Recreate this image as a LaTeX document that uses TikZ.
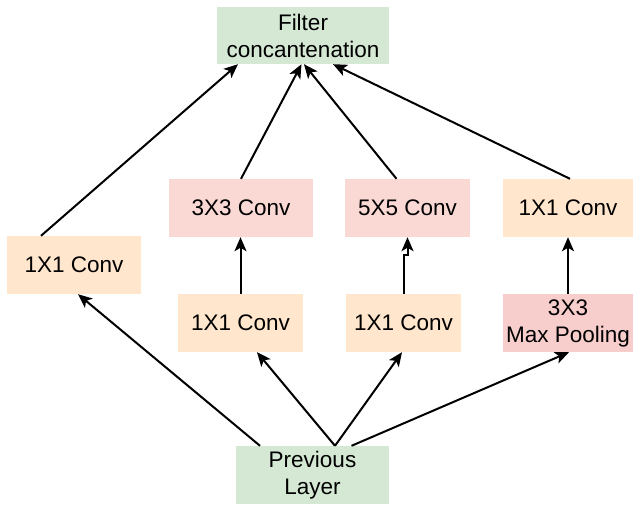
\documentclass[tikz,border=0pt]{standalone}
\usepackage{fontspec}
\setmainfont{Liberation Sans}
\usetikzlibrary{arrows.meta}
\definecolor{cgreen}{HTML}{D5E8D4}
\definecolor{corange}{HTML}{FFE6CC}
\definecolor{cpink}{HTML}{FAD9D5}
\definecolor{cred}{HTML}{F8CECC}
\begin{document}
\begin{tikzpicture}[x=1pt,y=-1pt,
  box/.style={rectangle,inner sep=0pt,align=center,font=\fontsize{22.5}{27}\selectfont},
  arr/.style={line width=2pt,-{Stealth[length=14pt,width=12pt,inset=3.5pt]}}]
\useasboundingbox (0,0) rectangle (634,504);
\node[box,fill=cgreen,minimum width=172pt,minimum height=57pt] (filt) at (303,35.5) {Filter\\concantenation};
\node[box,fill=cpink,minimum width=144pt,minimum height=58pt] (c3) at (241,208) {3X3 Conv};
\node[box,fill=cpink,minimum width=125pt,minimum height=58pt] (c5) at (407.5,208) {5X5 Conv};
\node[box,fill=corange,minimum width=130pt,minimum height=58pt] (r1) at (568,208) {1X1 Conv};
\node[box,fill=corange,minimum width=134pt,minimum height=58pt] (l1) at (74,265) {1X1 Conv};
\node[box,fill=corange,minimum width=125pt,minimum height=58pt] (m1) at (240.5,323) {1X1 Conv};
\node[box,fill=corange,minimum width=115pt,minimum height=58pt] (m2) at (403.5,323) {1X1 Conv};
\node[box,fill=cred,minimum width=130pt,minimum height=58pt] (mp) at (568,323) {3X3\\Max Pooling};
\node[box,fill=cgreen,minimum width=153pt,minimum height=58pt] (prev) at (312.5,475) {Previous\\Layer};
% to filter concatenation
\draw[arr] ([xshift=-33pt]l1.north) -- ([xshift=-65pt]filt.south);
\draw[arr] (c3.north) -- ([xshift=-1.5pt]filt.south);
\draw[arr] ([xshift=-11pt]c5.north) -- ([xshift=1pt]filt.south);
\draw[arr] ([xshift=2pt]r1.north) -- ([xshift=30pt]filt.south);
% vertical
\draw[arr] (m1.north) -- (m1.north |- c3.south);
\draw[arr] (m2.north) -- ++(0,-39) -| (c5.south);
\draw[arr] (mp.north) -- (r1.south);
% from previous layer
\draw[arr] ([xshift=-52.5pt]prev.north) -- ([xshift=4pt]l1.south);
\draw[arr] ([xshift=22.5pt]prev.north) -- ([xshift=16.5pt]m1.south);
\draw[arr] ([xshift=22.5pt]prev.north) -- ([xshift=-1.5pt]m2.south);
\draw[arr] ([xshift=39pt]prev.north) -- ([xshift=1pt]mp.south);
\end{tikzpicture}
\end{document}
